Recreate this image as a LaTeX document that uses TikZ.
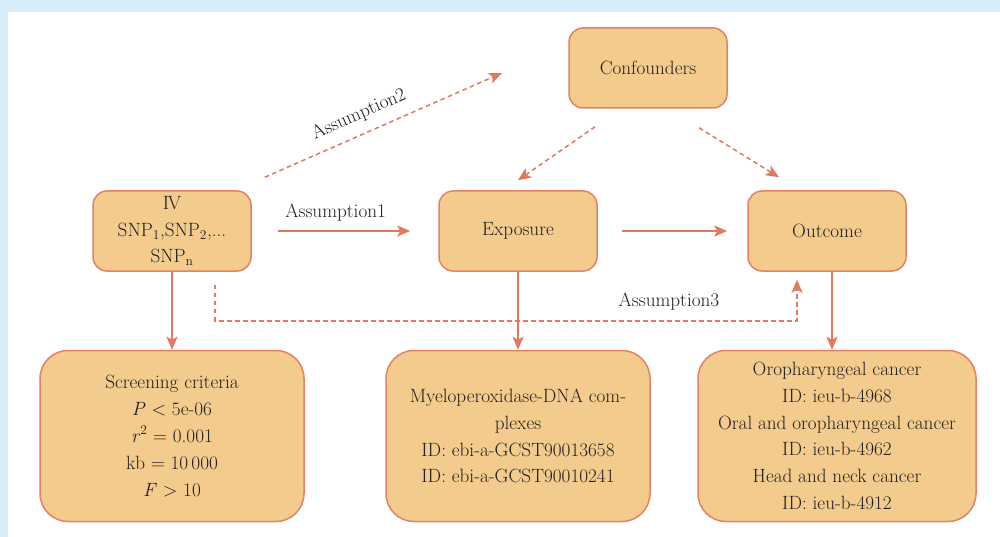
\documentclass[tikz,border=0pt]{standalone}
\usetikzlibrary{arrows.meta}
\definecolor{bgblue}{RGB}{214,236,249}
\definecolor{boxfill}{RGB}{242,203,141}
\definecolor{boxline}{RGB}{230,128,102}
\definecolor{arrowred}{RGB}{228,120,94}
\definecolor{inktext}{RGB}{35,31,32}

\begin{document}
\begin{tikzpicture}[x=1pt, y=-1pt,
	box/.style={draw=boxline, line width=1.5pt, fill=boxfill, rounded corners=14pt, align=center, text=inktext, font=\fontsize{19.2}{26.8}\selectfont, inner sep=0pt},
	smallbox/.style={box, minimum width=158pt, minimum height=80pt},
	bigbox/.style={box, rounded corners=28pt, minimum width=264pt, minimum height=171pt},
	lbl/.style={text=inktext, font=\fontsize{19.2}{26.8}\selectfont, inner sep=0pt},
	arr/.style={draw=arrowred, line width=1.5pt, -{Stealth[length=13pt, width=11pt, inset=3pt]}},
	dasharr/.style={arr, dash pattern=on 4.5pt off 3.5pt}]

\fill[bgblue] (0,0) rectangle (1000,537);
\fill[white] (8,12) rectangle (1000,537);

\node[smallbox] (conf) at (648,68) {Confounders};
\node[smallbox] (iv) at (172,231) {I\kern-1.5pt V\\SNP\textsubscript{1},SNP\textsubscript{2},...\\SNP\textsubscript{n}};
\node[smallbox] (exp) at (518,231) {Exposure};
\node[smallbox] (out) at (827,231) {Outcome};

\node[bigbox] (scr) at (172,436) {Screening criteria\\\textit{P} < 5e-06\\\textit{r}\textsuperscript{2} = 0.001\\kb = 10\,000\\\textit{F} > 10};
\node[bigbox] (mpo) at (518,436) {Myeloperoxidase-DNA com-\\plexes\\ID: ebi-a-GCST90013658\\ID: ebi-a-GCST90010241};
\node[bigbox, minimum width=278pt] (res) at (837,436) {Oropharyngeal cancer\\ID: ieu-b-4968\\Oral and oropharyngeal cancer\\ID: ieu-b-4962\\Head and neck cancer\\ID: ieu-b-4912};

\coordinate (a2end) at (502,73);

\draw[arr, shorten <=26pt, shorten >=28pt] (iv.east) -- node[pos=0.45, above=9pt, lbl] (a1) {Assumption1} (exp.west);
\draw[arr, shorten <=24pt, shorten >=20pt] (exp.east) -- (out.west);

\draw[dasharr] ([xshift=13pt, yshift=13pt]iv.north east) -- node[pos=0.43, sloped, above=10pt, lbl] (a2) {Assumption2} (a2end);
\draw[dasharr] ([xshift=-53pt, yshift=-18pt]conf.south) -- ([yshift=10pt]exp.north);
\draw[dasharr] ([xshift=51pt, yshift=-19pt]conf.south) -- ([xshift=-48pt, yshift=13pt]out.north);

\draw[dasharr] ([xshift=43pt, yshift=-13pt]iv.south) -- ++(0,36) -| node[pos=0.39, above=10pt, lbl] (a3) {Assumption3} ([xshift=-30pt, yshift=-8pt]out.south);

\foreach \a/\b/\s in {iv/scr/0, exp/mpo/0, out/res/5}
{
	\draw[arr] ([xshift=\s pt]\a.south) -- ([xshift=\s pt]\a.south |- \b.north);
}
\end{tikzpicture}
\end{document}
